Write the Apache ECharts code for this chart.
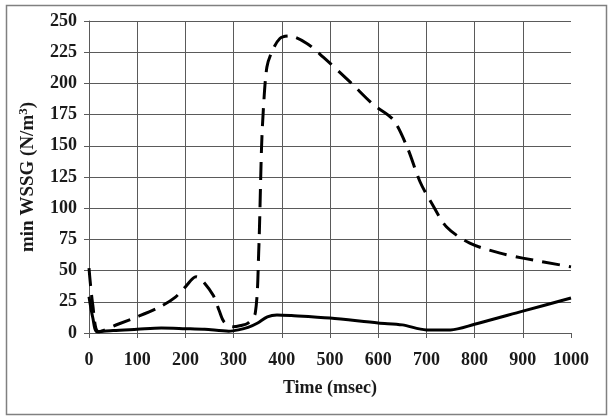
<!DOCTYPE html>
<html><head><meta charset="utf-8">
<script src="https://cdn.jsdelivr.net/npm/echarts@6/dist/echarts.min.js"></script>
<style>html,body{margin:0;padding:0;background:#fff}#c{width:611px;height:418px}</style>
</head><body><div id="c"></div>
<script>
var xTicks = [0,100,200,300,400,500,600,700,800,900,1000];
var yTicks = [0,25,50,75,100,125,150,175,200,225,250];
var solidTime = [0, 8, 17, 50, 100, 150, 200, 240, 290, 310, 330, 350, 370, 390, 420, 500, 600, 650, 700, 750, 800, 900, 1000];
var solidVal  = [29, 12, 1, 2, 3, 4, 3.5, 3, 1.5, 2.5, 4.5, 8, 13, 14.5, 14, 12, 8, 6.5, 2.5, 2.5, 7, 17.5, 28];
var dashTime = [0, 8, 20, 60, 100, 150, 180, 200, 222, 235, 258, 270, 280, 298, 315, 330, 345, 352, 358, 362, 369, 379, 396, 415, 452, 486, 542, 590, 631, 660, 687, 711, 742, 790, 853, 900, 1000];
var dashVal  = [52, 22, 1, 7, 13, 21.5, 29, 37, 45, 42, 30, 18, 9, 5, 6, 8, 16, 64, 149, 181, 213, 225, 236, 238, 232, 221, 201, 183, 171, 149, 121, 104, 85, 72, 64, 60, 53];

function pairs(t, v) { return t.map(function (x, i) { return [x, v[i]]; }); }

var font = 'Liberation Serif';
var gridColor = '#5a5a5a';
var txt = '#1a1a1a';
var chart = echarts.init(document.getElementById('c'));
chart.setOption({
  animation: false,
  backgroundColor: '#fff',
  graphic: [{
    type: 'rect', left: 4, top: 3, shape: { width: 600, height: 409 },
    style: { fill: 'none', stroke: '#808080', lineWidth: 1.5 }, silent: true
  }],
  grid: { left: 89, right: 40, top: 21, bottom: 85 },
  xAxis: {
    type: 'value', min: 0, max: 1000, interval: 100,
    name: 'Time (msec)', nameLocation: 'middle', nameGap: 46,
    nameTextStyle: { fontFamily: font, fontWeight: 'bold', fontSize: 18, color: txt },
    axisLine: { show: true, lineStyle: { color: gridColor, width: 1 } },
    axisTick: { show: true, length: 5, lineStyle: { color: gridColor } },
    axisLabel: { fontFamily: font, fontWeight: 'bold', fontSize: 18, color: txt, margin: 18,
      formatter: function (v) { return String(v); } },
    splitLine: { show: true, showMaxLine: false, lineStyle: { color: gridColor, width: 1 } }
  },
  yAxis: {
    type: 'value', min: 0, max: 250, interval: 25,
    name: 'min WSSG (N/m{sup|3})', nameLocation: 'middle', nameGap: 50, nameRotate: 90,
    nameTextStyle: { fontFamily: font, fontWeight: 'bold', fontSize: 19, color: txt,
      rich: { sup: { fontFamily: font, fontWeight: 'bold', fontSize: 13, color: txt, padding: [0, 0, 9, 0] } } },
    axisLine: { show: true, lineStyle: { color: gridColor, width: 1 } },
    axisTick: { show: true, length: 5, lineStyle: { color: gridColor } },
    axisLabel: { fontFamily: font, fontWeight: 'bold', fontSize: 18, color: txt, margin: 12 },
    splitLine: { show: true, lineStyle: { color: gridColor, width: 1 } }
  },
  series: [
    { type: 'line', data: pairs(solidTime, solidVal), showSymbol: false, smooth: 0.3,
      lineStyle: { color: '#000', width: 3 } },
    { type: 'line', data: pairs(dashTime, dashVal), showSymbol: false, smooth: 0.3,
      lineStyle: { color: '#000', width: 3, type: [18, 9] } }
  ]
});
</script></body></html>
